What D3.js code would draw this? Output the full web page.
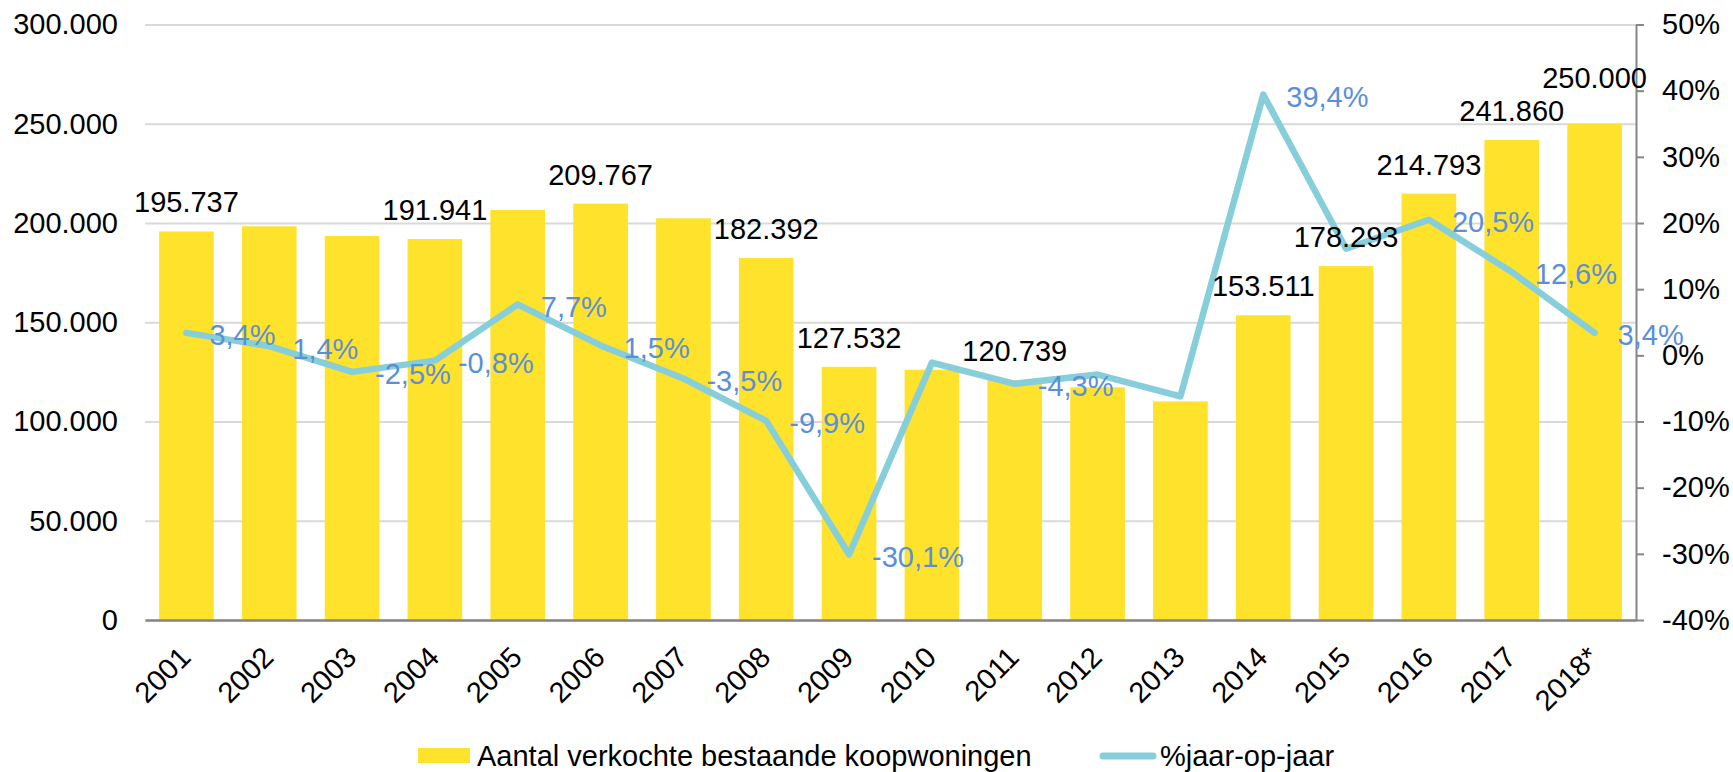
<!DOCTYPE html>
<html lang="nl">
<head>
    <meta charset="UTF-8">
    <title>Verkochte bestaande koopwoningen</title>
    <script src="https://d3js.org/d3.v7.min.js"></script>
    <style>
        body { margin: 0; background: #fff; }
        text { font-family: "Liberation Sans", Arial, sans-serif; font-size: 29px; }
    </style>
</head>
<body>
    <script>
        // data
        var years = ["2001", "2002", "2003", "2004", "2005", "2006", "2007", "2008", "2009",
            "2010", "2011", "2012", "2013", "2014", "2015", "2016", "2017", "2018*"];
        var sales = [195737, 198340, 193450, 191941, 206550, 209767, 202370, 182392, 127532,
            126100, 120739, 117230, 110100, 153511, 178293, 214793, 241860, 250000];
        var salesLabels = ["195.737", null, null, "191.941", null, "209.767", null, "182.392", "127.532",
            null, "120.739", null, null, "153.511", "178.293", "214.793", "241.860", "250.000"];
        var pct = [3.4, 1.4, -2.5, -0.8, 7.7, 1.5, -3.5, -9.9, -30.1,
            -1.1, -4.3, -2.9, -6.2, 39.4, 16.1, 20.5, 12.6, 3.4];
        var pctLabels = ["3,4%", "1,4%", "-2,5%", "-0,8%", "7,7%", "1,5%", "-3,5%", "-9,9%", "-30,1%",
            null, "-4,3%", null, null, "39,4%", null, "20,5%", "12,6%", "3,4%"];
        var leftTicks = [0, 50000, 100000, 150000, 200000, 250000, 300000];
        var rightTicks = [-40, -30, -20, -10, 0, 10, 20, 30, 40, 50];
        var legendNames = ["Aantal verkochte bestaande koopwoningen", "%jaar-op-jaar"];

        var w = 1733, h = 772;
        var margin = { top: 24.5, right: 97, bottom: 152, left: 145 };
        var barColor = "#FEE22B", lineColor = "#86CFDA", pctColor = "#5B8FD7";
        var labelRaise = { "2018*": 17 };

        var svg = d3.select("body").append("svg")
            .attr("width", w)
            .attr("height", h);

        var x = d3.scaleBand()
            .domain(years)
            .range([margin.left, w - margin.right])
            .paddingInner(0.34)
            .paddingOuter(0.17);
        var y = d3.scaleLinear().domain([0, 300000]).range([h - margin.bottom, margin.top]);
        var y2 = d3.scaleLinear().domain([-40, 50]).range([h - margin.bottom, margin.top]);
        var fmt = function(d) { return d3.format(",")(d).replace(/,/g, "."); };
        var cx = function(i) { return x(years[i]) + x.bandwidth() / 2; };

        // gridlines + left axis labels
        var left = svg.append("g")
            .attr("transform", "translate(" + margin.left + ",0)")
            .call(d3.axisLeft(y).tickValues(leftTicks).tickFormat(fmt)
                .tickSize(-(w - margin.left - margin.right)).tickPadding(27));
        left.select(".domain").remove();
        left.selectAll(".tick line").attr("stroke", "#D9D9D9").attr("stroke-width", 2);
        left.selectAll("text").attr("fill", "#000").style("font-size", "29px");

        // right axis
        var right = svg.append("g")
            .attr("transform", "translate(" + (w - margin.right) + ",0)")
            .call(d3.axisRight(y2).tickValues(rightTicks).tickFormat(function(d) { return d + "%"; })
                .tickSize(8).tickSizeOuter(0).tickPadding(18));
        right.select(".domain").attr("stroke", "#868686").attr("stroke-width", 2);
        right.selectAll(".tick line").attr("stroke", "#868686").attr("stroke-width", 2);
        right.selectAll("text").attr("fill", "#000").style("font-size", "29px");

        // bars
        svg.append("g").selectAll("rect")
            .data(sales)
            .enter().append("rect")
            .attr("x", function(d, i) { return x(years[i]); })
            .attr("y", function(d) { return y(d); })
            .attr("width", x.bandwidth())
            .attr("height", function(d) { return y(0) - y(d); })
            .attr("fill", barColor);

        // bottom axis
        var bottom = svg.append("g")
            .attr("transform", "translate(0," + y(0) + ")")
            .call(d3.axisBottom(x).tickSize(0).tickSizeOuter(0));
        bottom.select(".domain").attr("stroke", "#868686").attr("stroke-width", 2.5);
        bottom.selectAll("text")
            .attr("fill", "#000")
            .style("font-size", "29px")
            .attr("text-anchor", "end")
            .attr("y", 0).attr("dy", 0)
            .attr("transform", "translate(6,39) rotate(-45)");

        // percentage line
        var line = d3.line()
            .x(function(d, i) { return cx(i); })
            .y(function(d) { return y2(d); });
        svg.append("path")
            .datum(pct)
            .attr("d", line)
            .attr("fill", "none")
            .attr("stroke", lineColor)
            .attr("stroke-width", 6.5)
            .attr("stroke-linejoin", "round")
            .attr("stroke-linecap", "round");

        // bar value labels
        var barLab = sales.map(function(v, i) { return { i: i, v: v, t: salesLabels[i] }; })
            .filter(function(d) { return d.t; });
        svg.append("g").selectAll("text")
            .data(barLab)
            .enter().append("text")
            .attr("x", function(d) { return cx(d.i); })
            .attr("y", function(d) { return y(d.v) - 19 - (labelRaise[years[d.i]] || 0); })
            .attr("text-anchor", "middle")
            .attr("fill", "#000")
            .text(function(d) { return d.t; });

        // percentage labels
        var pctLab = pct.map(function(v, i) { return { i: i, v: v, t: pctLabels[i] }; })
            .filter(function(d) { return d.t; });
        svg.append("g").selectAll("text")
            .data(pctLab)
            .enter().append("text")
            .attr("x", function(d) { return cx(d.i) + 23; })
            .attr("y", function(d) { return y2(d.v) + 2; })
            .attr("dy", "0.36em")
            .attr("fill", pctColor)
            .text(function(d) { return d.t; });

        // legend
        var lg = svg.append("g");
        lg.append("rect")
            .attr("x", 418).attr("y", 748)
            .attr("width", 52).attr("height", 15)
            .attr("fill", barColor);
        lg.append("text")
            .attr("x", 477).attr("y", 756).attr("dy", "0.36em")
            .text(legendNames[0]);
        lg.append("line")
            .attr("x1", 1103).attr("x2", 1153)
            .attr("y1", 756).attr("y2", 756)
            .attr("stroke", lineColor)
            .attr("stroke-width", 7)
            .attr("stroke-linecap", "round");
        lg.append("text")
            .attr("x", 1160).attr("y", 756).attr("dy", "0.36em")
            .text(legendNames[1]);
    </script>
</body>
</html>
